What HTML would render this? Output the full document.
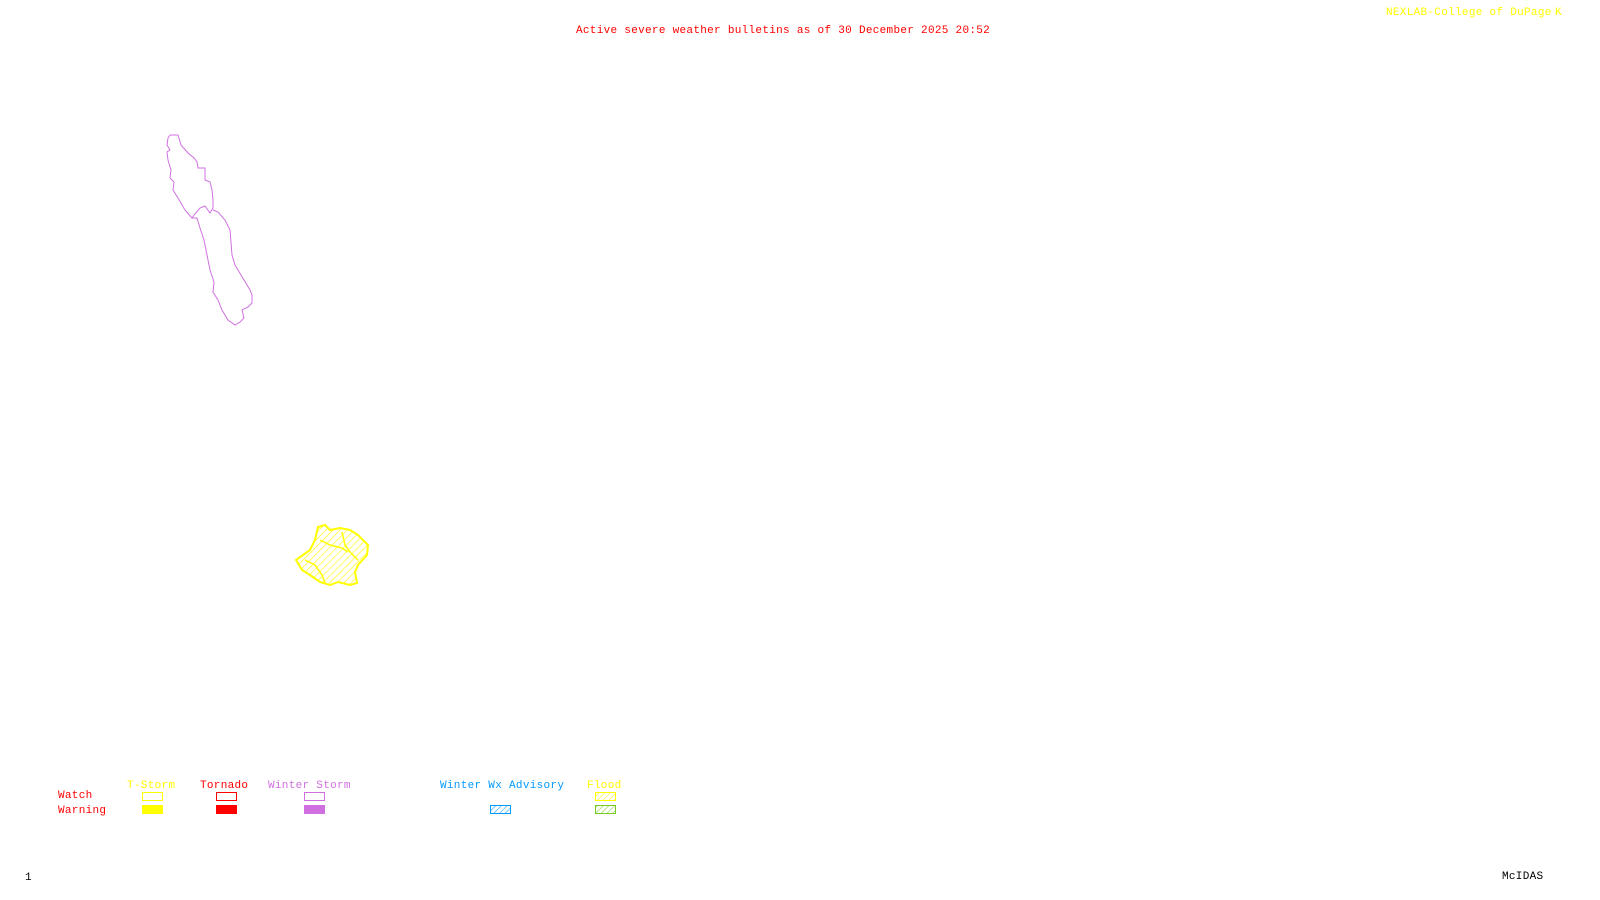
<!DOCTYPE html>
<html><head><meta charset="utf-8"><style>
html,body{margin:0;padding:0;background:#fff;width:1600px;height:900px;overflow:hidden}
svg{position:absolute;left:0;top:0}
text{font-family:"Liberation Mono",monospace;font-size:11px;letter-spacing:0.3px}
</style></head><body>
<svg width="1600" height="900" xmlns="http://www.w3.org/2000/svg">
<defs>
<pattern id="hy" width="5" height="5" patternUnits="userSpaceOnUse" patternTransform="rotate(45)"><line x1="0" y1="0" x2="0" y2="5" stroke="#ff0" stroke-width="1.2"/></pattern>
<pattern id="hb" width="4" height="4" patternUnits="userSpaceOnUse" patternTransform="rotate(45)"><line x1="0" y1="0" x2="0" y2="4" stroke="#09f" stroke-width="1"/></pattern>
<pattern id="hg" width="4" height="4" patternUnits="userSpaceOnUse" patternTransform="rotate(45)"><line x1="0" y1="0" x2="0" y2="4" stroke="#7c2" stroke-width="1"/></pattern>
<pattern id="hy2" width="4" height="4" patternUnits="userSpaceOnUse" patternTransform="rotate(45)"><line x1="0" y1="0" x2="0" y2="4" stroke="#ff0" stroke-width="1"/></pattern>
</defs>
<text x="576" y="33" fill="#f00">Active severe weather bulletins as of 30 December 2025 20:52</text>
<text x="1386" y="15" fill="#ff0">NEXLAB-College of DuPage</text>
<text x="1555" y="15" fill="#ff0">K</text>
<g fill="none" stroke="#d070e0" stroke-width="1">
<polyline points="170,135 178,135 181,145 188,153 194,158 197,162 198,168 205,168 205,180 210,182 212,190 213,200 213,208 210,213 205,206 200,208 194,215 192,218 185,210 178,198 173,190 174,182 170,178 171,170 168,160 167,152 170,150 167,145 168,138 170,135"/>
<polyline points="192,218 197,218 200,228 204,240 207,255 210,270 214,282 213,292 218,300 222,310 228,320 235,325 240,322 244,318 242,310 248,307 252,303 252,295 250,290 244,280 238,270 235,265 232,255 230,230 225,220 218,212 213,210"/>
</g>
<polygon points="318,527 325,525 330,530 340,528 350,530 358,535 368,545 367,555 358,565 355,572 357,583 350,585 338,582 330,585 320,582 310,575 302,570 296,560 303,555 310,550 315,540" fill="url(#hy)" stroke="#ff0" stroke-width="2"/>
<polyline points="320,540 330,545 342,548 348,552" fill="none" stroke="#ff0" stroke-width="1.5"/>
<polyline points="305,560 315,565 322,575 325,583" fill="none" stroke="#ff0" stroke-width="1.5"/>
<polyline points="342,532 345,545 350,552 358,560" fill="none" stroke="#ff0" stroke-width="1.5"/>
<text x="127" y="788" fill="#ff0">T-Storm</text>
<text x="200" y="788" fill="#f00">Tornado</text>
<text x="268" y="788" fill="#d070e0">Winter Storm</text>
<text x="440" y="788" fill="#09f">Winter Wx Advisory</text>
<text x="587" y="788" fill="#ff0">Flood</text>
<text x="58" y="798" fill="#f00">Watch</text>
<text x="58" y="813" fill="#f00">Warning</text>
<rect x="142.5" y="792.5" width="20" height="8" fill="none" stroke="#ff0"/>
<rect x="216.5" y="792.5" width="20" height="8" fill="none" stroke="#f00"/>
<rect x="304.5" y="792.5" width="20" height="8" fill="none" stroke="#d070e0"/>
<rect x="595.5" y="792.5" width="20" height="8" fill="url(#hy2)" stroke="#ff0"/>
<rect x="142" y="805" width="21" height="9" fill="#ff0"/>
<rect x="216" y="805" width="21" height="9" fill="#f00"/>
<rect x="304" y="805" width="21" height="9" fill="#d070e0"/>
<rect x="490.5" y="805.5" width="20" height="8" fill="url(#hb)" stroke="#09f"/>
<rect x="595.5" y="805.5" width="20" height="8" fill="url(#hg)" stroke="#7c2"/>
<text x="25" y="880" fill="#000">1</text>
<text x="1502" y="879" fill="#000">McIDAS</text>
</svg>
</body></html>
